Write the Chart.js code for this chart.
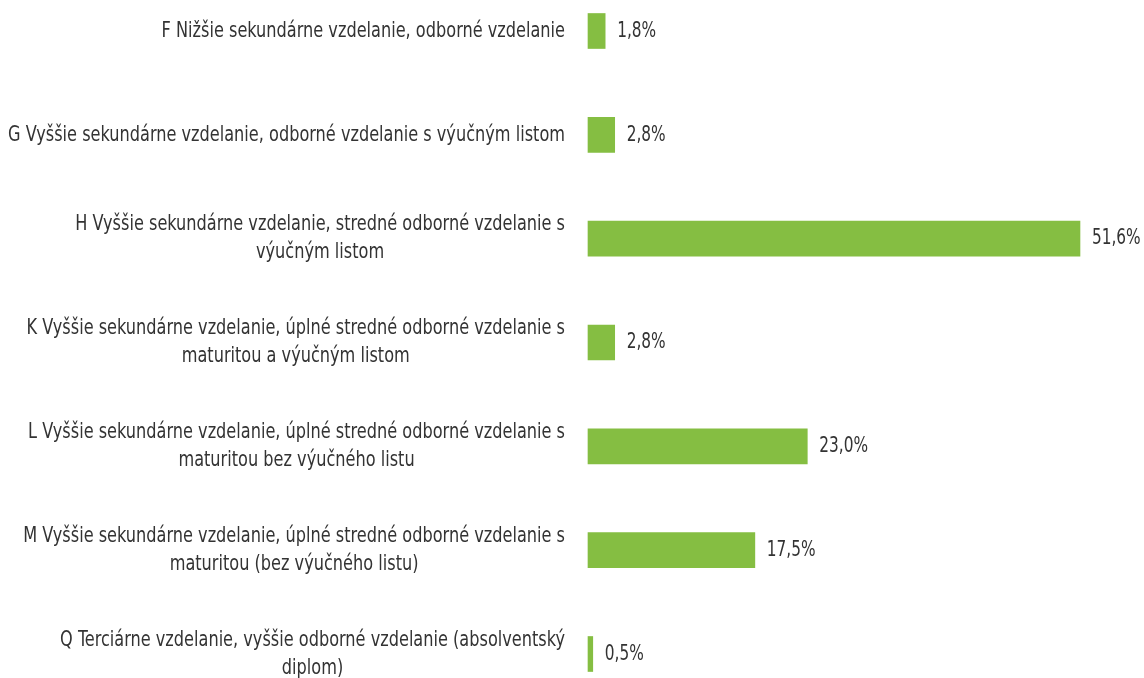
<!DOCTYPE html>
<html>
<head>
<meta charset="utf-8">
<script src="https://cdn.jsdelivr.net/npm/chart.js@4"></script>
<style>
  html, body { margin: 0; padding: 0; background: #fff; }
</style>
</head>
<body>
<canvas id="eduChart" width="1144" height="678"></canvas>
<script>
// categories, one array of lines per label
const categories = [
  ['F Nižšie sekundárne vzdelanie, odborné vzdelanie'],
  ['G Vyššie sekundárne vzdelanie, odborné vzdelanie s výučným listom'],
  ['H Vyššie sekundárne vzdelanie, stredné odborné vzdelanie s', 'výučným listom'],
  ['K Vyššie sekundárne vzdelanie, úplné stredné odborné vzdelanie s', 'maturitou a výučným listom'],
  ['L Vyššie sekundárne vzdelanie, úplné stredné odborné vzdelanie s', 'maturitou bez výučného listu'],
  ['M Vyššie sekundárne vzdelanie, úplné stredné odborné vzdelanie s', 'maturitou (bez výučného listu)'],
  ['Q Terciárne vzdelanie, vyššie odborné vzdelanie (absolventský', 'diplom)']
];
const shares = [1.8, 2.8, 51.6, 2.8, 23.0, 17.5, 0.5];

const labelFont = '22px "Liberation Sans Narrow", "DejaVu Sans Condensed", "Roboto", sans-serif';
const textColor = '#333333';

// labels drawn by hand: each multi-line label is centred on itself, right edge at the axis
const sideLabels = {
  id: 'sideLabels',
  afterDatasetsDraw(chart) {
    const ctx = chart.ctx;
    const yScale = chart.scales.y;
    const meta = chart.getDatasetMeta(0);
    ctx.save();
    ctx.font = labelFont;
    ctx.fillStyle = textColor;
    ctx.textBaseline = 'middle';
    ctx.textAlign = 'center';
    // squeeze the font to the narrow width of the original
    const sx = 557 / ctx.measureText(categories[1][0]).width;
    const rightEdge = chart.chartArea.left - 23;

    categories.forEach((lines, i) => {
      const y = yScale.getPixelForTick(i);
      const widest = Math.max(...lines.map(l => ctx.measureText(l).width)) * sx;
      const cx = rightEdge - widest / 2;
      lines.forEach((line, j) => {
        const ly = y + (j - (lines.length - 1) / 2) * 28;
        ctx.save();
        ctx.translate(cx, ly);
        ctx.scale(sx, 1);
        ctx.fillText(line, 0, 0);
        ctx.restore();
      });

      // value at the end of the bar
      const bar = meta.data[i];
      const txt = shares[i].toFixed(1).replace('.', ',') + '%';
      ctx.save();
      ctx.translate(bar.x + 12, bar.y);
      ctx.scale(sx * 0.95, 1);
      ctx.textAlign = 'left';
      ctx.fillText(txt, 0, 0);
      ctx.restore();
    });
    ctx.restore();
  }
};

new Chart(document.getElementById('eduChart').getContext('2d'), {
  type: 'bar',
  data: {
    labels: categories,
    datasets: [{
      data: shares,
      backgroundColor: '#85BE42',
      barThickness: 35,
      clip: false
    }]
  },
  options: {
    indexAxis: 'y',
    responsive: false,
    devicePixelRatio: 1,
    animation: false,
    layout: { padding: { top: 31, bottom: 24, left: 0, right: 3 } },
    scales: {
      y: {
        offset: false,
        grid: { display: false },
        border: { display: false },
        ticks: { display: false },
        afterFit(scale) { scale.width = 588; }
      },
      x: {
        min: 0,
        max: 58,
        display: false
      }
    },
    plugins: {
      legend: { display: false },
      tooltip: { enabled: false }
    }
  },
  plugins: [sideLabels]
});
</script>
</body>
</html>
